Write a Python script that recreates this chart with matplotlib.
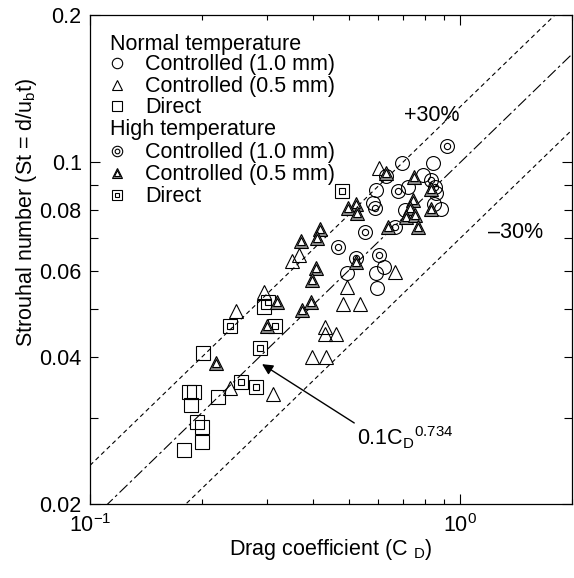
import numpy as np
import matplotlib
matplotlib.use("Agg")
import matplotlib.pyplot as plt
from matplotlib.ticker import FixedLocator, FuncFormatter, NullFormatter

plt.rcParams['font.family'] = ['Liberation Sans', 'DejaVu Sans']
plt.rcParams['mathtext.fontset'] = 'custom'
plt.rcParams['mathtext.rm'] = 'Liberation Sans'
plt.rcParams['mathtext.it'] = 'Liberation Sans:italic'
plt.rcParams['mathtext.bf'] = 'Liberation Sans:bold'

# ---- data: drag coefficient (CD) and Strouhal number (St) ----
# normal temperature, controlled 1.0 mm
nt_c10_cd = [0.697, 0.844, 0.593, 0.723, 0.793, 0.86, 0.582, 0.71, 0.849, 0.887,
             0.493, 0.623, 0.593, 0.597]
nt_c10_st = [0.0996, 0.0996, 0.0877, 0.089, 0.0942, 0.0865, 0.0826, 0.0798, 0.0821, 0.0802,
             0.0593, 0.061, 0.0593, 0.0553]
# normal temperature, controlled 0.5 mm
nt_c05_cd = [0.601, 0.351, 0.366, 0.295, 0.493, 0.248, 0.397, 0.433, 0.312, 0.238,
             0.481, 0.537, 0.430, 0.430, 0.46, 0.667]
nt_c05_st = [0.0973, 0.0628, 0.0646, 0.0543, 0.0556, 0.0497, 0.040, 0.040, 0.0336, 0.0345,
             0.0513, 0.0513, 0.046, 0.0446, 0.0446, 0.0596]
# normal temperature, direct
nt_dir_cd = [0.1855, 0.191, 0.187, 0.194, 0.201, 0.179, 0.201, 0.222, 0.202, 0.295]
nt_dir_st = [0.0339, 0.0339, 0.0319, 0.0294, 0.0287, 0.0258, 0.0268, 0.0331, 0.0407, 0.0506]
# high temperature, controlled 1.0 mm
ht_c10_cd = [0.92, 0.631, 0.834, 0.68, 0.855, 0.589, 0.554, 0.466, 0.601, 0.524, 0.667]
ht_c10_st = [0.108, 0.0938, 0.092, 0.0873, 0.089, 0.0806, 0.072, 0.0671, 0.0646, 0.0637, 0.0737]
# high temperature, controlled 0.5 mm
ht_c05_cd = [0.524, 0.496, 0.527, 0.417, 0.409, 0.371, 0.407, 0.397, 0.631, 0.75,
             0.834, 0.745, 0.732, 0.714, 0.755, 0.769, 0.639, 0.834, 0.219, 0.32,
             0.373, 0.394, 0.30, 0.524]
ht_c05_st = [0.0821, 0.0806, 0.0788, 0.073, 0.07, 0.069, 0.0608, 0.0574, 0.095, 0.0933,
             0.0881, 0.0838, 0.0806, 0.0773, 0.078, 0.0737, 0.0737, 0.0802, 0.0388, 0.0518,
             0.0499, 0.0518, 0.0462, 0.0626]
# high temperature, direct
ht_dir_cd = [0.302, 0.238, 0.316, 0.288, 0.256, 0.281, 0.478]
ht_dir_st = [0.0518, 0.0462, 0.0462, 0.0417, 0.0355, 0.0347, 0.0873]

# correlation St = a * CD^n with +/-30 % band
fit_coef = 0.1
fit_exp = 0.734
band = 0.30

y_tick_labels = ['0.04', '0.06', '0.08']

FS = 15.5
MS = 10
LW = 0.8

fig = plt.figure(figsize=(5.74, 5.78), dpi=100)
ax = fig.add_axes([90 / 574, 74 / 578, 482 / 574, 489 / 578])
ax.set_xscale('log')
ax.set_yscale('log')
ax.set_xlim(0.1, 2)
ax.set_ylim(0.02, 0.2)

# correlation lines
cd = np.logspace(-1, np.log10(2), 300)
ax.plot(cd, fit_coef * cd ** fit_exp, color='k', lw=LW, dashes=(10, 3, 2.5, 3), zorder=1)
ax.plot(cd, (1 + band) * fit_coef * cd ** fit_exp, color='k', lw=LW, dashes=(4, 3), zorder=1)
ax.plot(cd, (1 - band) * fit_coef * cd ** fit_exp, color='k', lw=LW, dashes=(4, 3), zorder=1)


def open_marker(x, y, m, ms, **kw):
    ax.plot(x, y, ls='none', marker=m, ms=ms, mfc='none', mec='k', mew=LW, zorder=3, **kw)


def bullseye(x, y, ms, **kw):
    ax.plot(x, y, ls='none', marker='o', ms=ms, mfc='none', mec='k', mew=LW, zorder=3, **kw)
    ax.plot(x, y, ls='none', marker='o', ms=ms * 0.45, mfc='none', mec='k', mew=LW, zorder=3, **kw)


def boxed(x, y, ms, **kw):
    ax.plot(x, y, ls='none', marker='s', ms=ms, mfc='none', mec='k', mew=LW, zorder=3, **kw)
    ax.plot(x, y, ls='none', marker='s', ms=ms * 0.42, mfc='none', mec='k', mew=LW, zorder=3, **kw)


def shaded_tri(x, y, ms, **kw):
    for xi, yi in zip(np.atleast_1d(x), np.atleast_1d(y)):
        ax.plot(xi, yi, ls='none', marker='^', ms=ms, mfc='0.55', mec='k', mew=LW, zorder=4, **kw)
        ax.plot(xi, yi, ls='none', marker='^', ms=ms * 0.55, mfc='white', mec='k', mew=LW, zorder=4, **kw)


open_marker(nt_dir_cd, nt_dir_st, 's', MS * 0.95)
boxed(ht_dir_cd, ht_dir_st, MS * 0.95)
open_marker(nt_c10_cd, nt_c10_st, 'o', MS)
bullseye(ht_c10_cd, ht_c10_st, MS)
open_marker(nt_c05_cd, nt_c05_st, '^', MS * 0.95)
shaded_tri(ht_c05_cd, ht_c05_st, MS * 0.95)

# legend drawn in axes coordinates
tr = ax.transAxes
lx_head, lx_mark, lx_text = 0.0415, 0.056, 0.114
rows = [0.939, 0.898, 0.853, 0.810, 0.765, 0.718, 0.673, 0.628]
LMS = 7.5
ax.text(lx_head, rows[0], 'Normal temperature', transform=tr, fontsize=FS, va='center', ha='left')
ax.text(lx_head, rows[4], 'High temperature', transform=tr, fontsize=FS, va='center', ha='left')
labels = ['Controlled (1.0 mm)', 'Controlled (0.5 mm)', 'Direct']
for i, lab in enumerate(labels):
    ax.text(lx_text, rows[1 + i], lab, transform=tr, fontsize=FS, va='center', ha='left')
    ax.text(lx_text, rows[5 + i], lab, transform=tr, fontsize=FS, va='center', ha='left')
open_marker([lx_mark], [rows[1] + 0.004], 'o', LMS, transform=tr, clip_on=False)
open_marker([lx_mark], [rows[2] + 0.004], '^', LMS, transform=tr, clip_on=False)
open_marker([lx_mark], [rows[3] + 0.004], 's', LMS, transform=tr, clip_on=False)
bullseye([lx_mark], [rows[5] + 0.004], LMS, transform=tr, clip_on=False)
shaded_tri([lx_mark], [rows[6] + 0.004], LMS, transform=tr, clip_on=False)
boxed([lx_mark], [rows[7] + 0.004], LMS, transform=tr, clip_on=False)

# band and correlation annotations
ax.text(0.71, 0.795, '+30%', transform=tr, fontsize=FS, ha='center', va='center')
ax.text(0.882, 0.556, '\u201330%', transform=tr, fontsize=FS, ha='center', va='center')
ax.annotate(r'0.1C$_{\mathrm{D}}$$^{0.734}$', xy=(0.357, 0.286), xycoords=tr,
            xytext=(0.554, 0.135), textcoords=tr, fontsize=FS, ha='left', va='center',
            arrowprops=dict(arrowstyle='-|>', color='k', lw=1.0, mutation_scale=16,
                            shrinkA=0, shrinkB=0, relpos=(0.0, 1.0)))

# axes styling
for s in ax.spines.values():
    s.set_linewidth(0.9)
ax.xaxis.set_minor_formatter(NullFormatter())
ax.yaxis.set_major_locator(FixedLocator([0.02, 0.1, 0.2]))
ax.yaxis.set_major_formatter(FuncFormatter(lambda v, p: f'{v:g}'))
ax.yaxis.set_minor_locator(FixedLocator([0.03, 0.04, 0.05, 0.06, 0.07, 0.08, 0.09]))
ax.yaxis.set_minor_formatter(FuncFormatter(
    lambda v, p: f'{v:.2f}' if f'{v:.2f}' in y_tick_labels else ''))
ax.tick_params(which='both', direction='in', top=True, right=True, labelsize=FS, width=0.8)
ax.tick_params(which='major', length=7.5)
ax.tick_params(axis='x', which='minor', length=3.5)
ax.tick_params(axis='y', which='minor', length=5.5)
ax.tick_params(axis='x', which='both', pad=7)
ax.tick_params(axis='y', which='both', pad=6)

fig.text(331 / 574, 1 - 549 / 578, 'Drag coefficient (C $_{\\mathrm{D}}$)', fontsize=FS,
         ha='center', va='center')
fig.text(27 / 574, 1 - 212 / 578, 'Strouhal number (St = d/u$_{\\mathrm{b}}$t)', fontsize=FS,
         ha='center', va='center', rotation=90)

fig.savefig('out.png', dpi=100)
